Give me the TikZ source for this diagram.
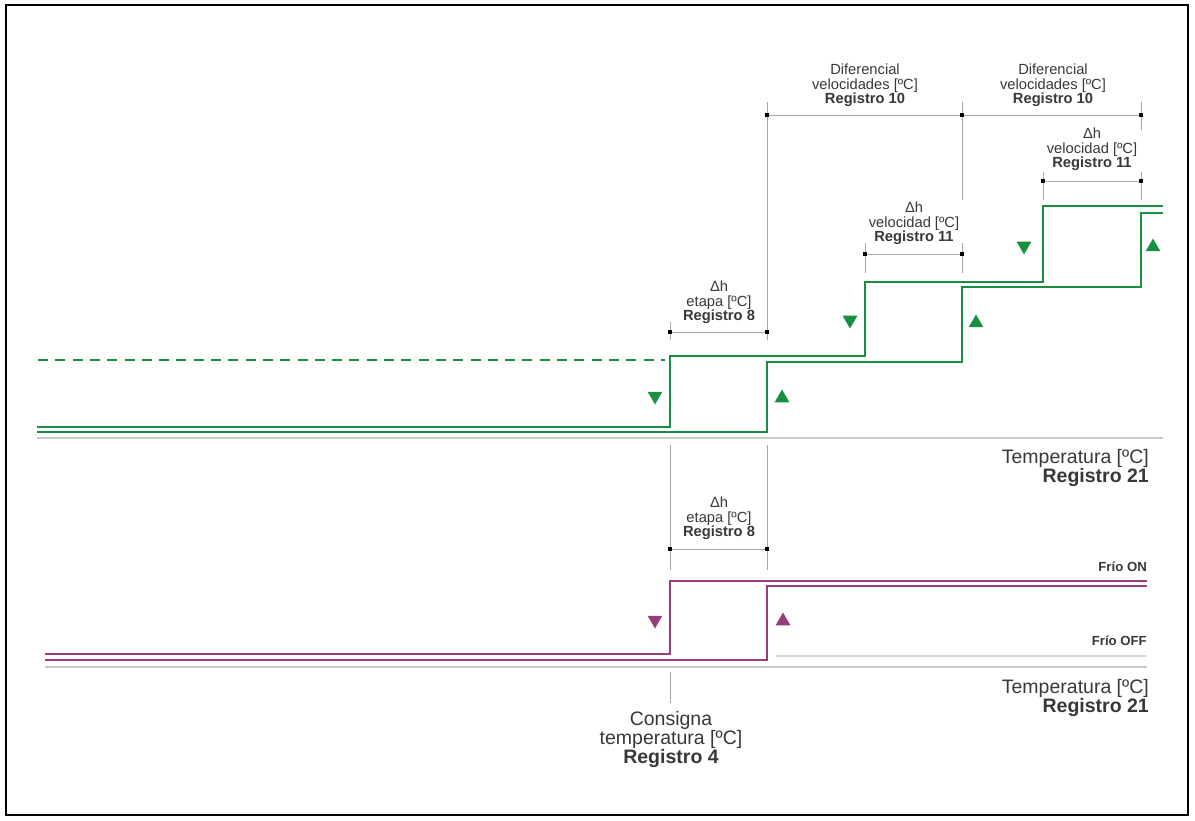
\documentclass[tikz,border=0pt]{standalone}
\usepackage{fontspec}
\setmainfont{Liberation Sans}
\usepackage{xcolor}
\usepackage{tikz}
\usetikzlibrary{shapes.geometric}
\definecolor{CurveGreen}{HTML}{17903F}
\definecolor{CurvePlum}{HTML}{9A3C7C}
\definecolor{GuideGray}{HTML}{A8A8A8}
\definecolor{AxisGray}{HTML}{CACACA}
\definecolor{LabelGray}{HTML}{383838}
\newcommand{\smalltxt}{\fontsize{14.7}{14.5}\selectfont}
\newcommand{\bigtxt}{\fontsize{19.5}{17.5}\selectfont}
\newcommand{\tagtxt}{\fontsize{13.2}{14}\selectfont\bfseries}

\begin{document}
\begin{tikzpicture}[x=1pt,y=-1pt,
  guide/.style={GuideGray,line width=.9pt},
  dimline/.style={GuideGray,line width=.9pt},
  endmark/.style={rectangle,fill=black,inner sep=0pt,minimum size=3.6pt},
  axisline/.style={AxisGray,line width=2.4pt},
  trace/.style={line width=2.2pt,line join=miter},
  label/.style={align=center,inner sep=0pt,text=LabelGray},
  uptri/.style={regular polygon,regular polygon sides=3,fill=#1,inner sep=0pt,minimum size=17pt},
  downtri/.style={uptri=#1,shape border rotate=180}]
\useasboundingbox (0,0) rectangle (1195,821);
\draw[line width=1.4pt] (6,5) rectangle (1188,815);

% guide lines
\draw[guide] (670,322)--(670,340);\draw[guide] (670,445)--(670,570);\draw[guide] (670,672)--(670,703);
\draw[guide] (767,102)--(767,340);\draw[guide] (767,445)--(767,570);
\draw[guide] (962,102)--(962,200);\draw[guide] (962,243)--(962,273);\draw[guide] (865,243)--(865,273);
\draw[guide] (1043,172)--(1043,200);\draw[guide] (1141,102)--(1141,130);\draw[guide] (1141,172)--(1141,200);

% axes
\draw[axisline] (37,438)--(1163,438);
\draw[axisline] (45,667)--(1147,667);
\draw[AxisGray!70,line width=1.2pt] (776,656)--(1147,656);

% dimension marks
\node[endmark] (e8a) at (670,332) {};\node[endmark] (e8b) at (767,332) {};
\node[endmark] (f8a) at (670,549) {};\node[endmark] (f8b) at (767,549) {};
\node[endmark] (r10a) at (767,115) {};\node[endmark] (r10b) at (962,115) {};\node[endmark] (r10c) at (1141,115) {};
\node[endmark] (r11a) at (865,254) {};\node[endmark] (r11b) at (962,254) {};
\node[endmark] (r11c) at (1043,181) {};\node[endmark] (r11d) at (1141,181) {};
\draw[dimline] (e8a)--(e8b);\draw[dimline] (f8a)--(f8b);\draw[dimline] (r10a)--(r10b);\draw[dimline] (r10b)--(r10c);\draw[dimline] (r11a)--(r11b);\draw[dimline] (r11c)--(r11d);

% green stages
\draw[trace,CurveGreen,dash pattern=on 10pt off 7.3pt] (38,360)--(665,360);
\draw[trace,CurveGreen] (37,427) -| (670,356) -| (865,282) -| (1043,206) -- (1163,206);
\draw[trace,CurveGreen] (37,432) -| (767,362) -| (962,287) -| (1141,213) -- (1163,213);
\node[downtri=CurveGreen] (g1) at (655,396) {};\node[uptri=CurveGreen] (g2) at (782,398) {};
\node[downtri=CurveGreen] (g3) at (850,320) {};\node[uptri=CurveGreen] (g4) at (976,323) {};
\node[downtri=CurveGreen] (g5) at (1024,246) {};\node[uptri=CurveGreen] (g6) at (1153,247) {};

% cooling relay
\draw[trace,CurvePlum] (45,654) -| (670,581) -- (1147,581);
\draw[trace,CurvePlum] (45,660) -| (767,586) -- (1147,586);
\node[downtri=CurvePlum] (p1) at (655,620) {};\node[uptri=CurvePlum] (p2) at (783,621) {};

% labels
\node[label,font=\smalltxt,anchor=south] (l8up) at (719,324) {Δh\\etapa [ºC]\\\textbf{Registro 8}};
\node[label,font=\smalltxt,anchor=south] (l8dn) at (719,540) {Δh\\etapa [ºC]\\\textbf{Registro 8}};
\node[label,font=\smalltxt,anchor=south] (l10a) at (865,107) {Diferencial\\velocidades [ºC]\\\textbf{Registro 10}};
\node[label,font=\smalltxt,anchor=south] (l10b) at (1053,107) {Diferencial\\velocidades [ºC]\\\textbf{Registro 10}};
\node[label,font=\smalltxt,anchor=south] (l11a) at (914,245) {Δh\\velocidad [ºC]\\\textbf{Registro 11}};
\node[label,font=\smalltxt,anchor=south] (l11b) at (1092,171) {Δh\\velocidad [ºC]\\\textbf{Registro 11}};
\node[label,font=\bigtxt,align=right,anchor=south east] (tup) at (1149,487) {Temperatura [ºC]\\\textbf{Registro 21}};
\node[label,font=\bigtxt,align=right,anchor=south east] (tdn) at (1149,717) {Temperatura [ºC]\\\textbf{Registro 21}};
\node[label,font=\bigtxt,anchor=south] (cons) at (671,768) {Consigna\\temperatura [ºC]\\\textbf{Registro 4}};
\node[label,font=\tagtxt,anchor=base east] (fon) at (1147,571) {Frío ON};
\node[label,font=\tagtxt,anchor=base east] (foff) at (1147,645) {Frío OFF};
\end{tikzpicture}
\end{document}
